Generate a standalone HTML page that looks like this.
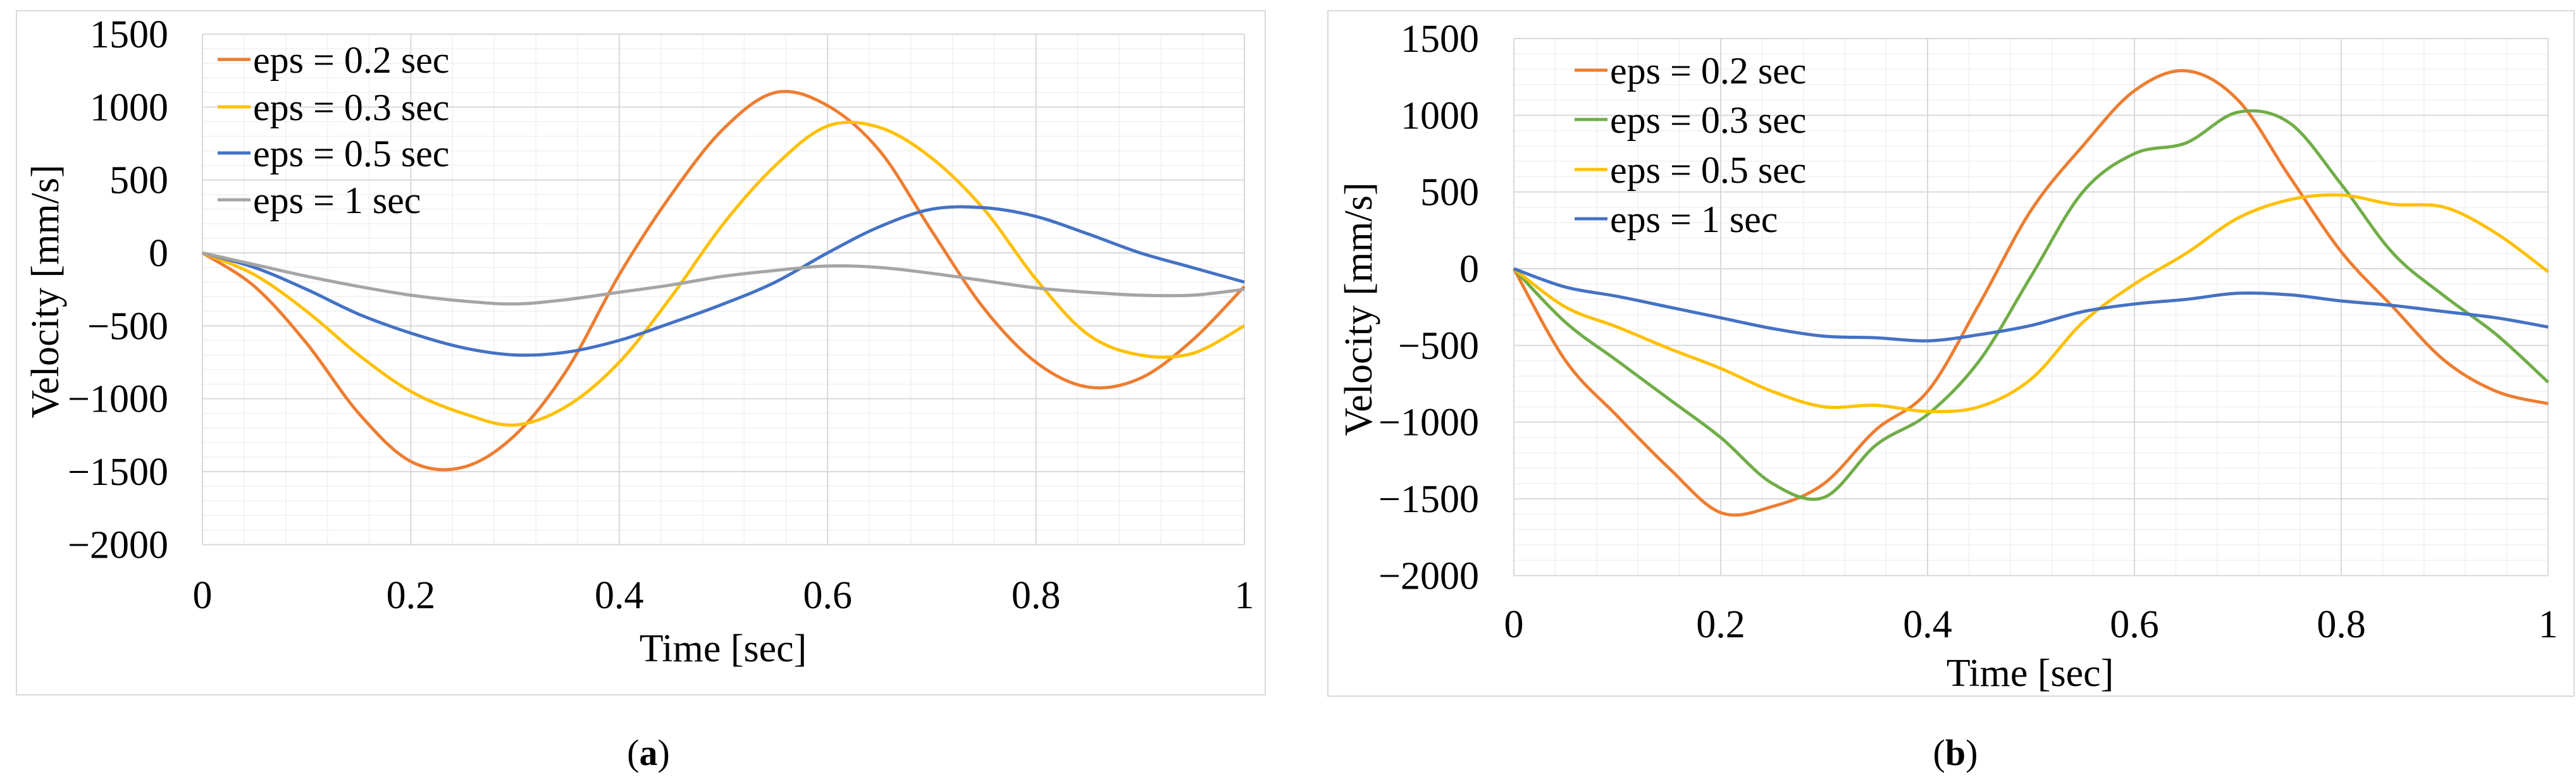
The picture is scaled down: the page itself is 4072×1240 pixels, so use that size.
<!DOCTYPE html>
<html><head><meta charset="utf-8"><style>
html,body{margin:0;padding:0;background:#fff;}
svg{display:block;font-family:"Liberation Serif",serif;}
</style></head><body>
<svg id="root" width="4072" height="1240" viewBox="0 0 4072 1240">
<rect x="26" y="17" width="1974" height="1082" fill="#fff" stroke="#d9d9d9" stroke-width="2"/>
<rect x="2099" y="17" width="1970" height="1084" fill="#fff" stroke="#d9d9d9" stroke-width="2"/>
<g id="ga"></g>
<g id="gb"></g>
<text x="1025" y="1210" font-size="58" text-anchor="middle">(<tspan font-weight="bold">a</tspan>)</text>
<text x="3091" y="1210" font-size="58" text-anchor="middle">(<tspan font-weight="bold">b</tspan>)</text>
</svg>
<script>
const xTicks=[0,0.2,0.4,0.6,0.8,1];
const xTickLabels=["0","0.2","0.4","0.6","0.8","1"];
const yTicks=[1500,1000,500,0,-500,-1000,-1500,-2000];
const yTickLabels=["1500","1000","500","0","\u2212500","\u22121000","\u22121500","\u22122000"];

const aX=[0,0.05,0.1,0.15,0.2,0.25,0.3,0.35,0.4,0.45,0.5,0.55,0.6,0.65,0.7,0.75,0.8,0.85,0.9,0.95,1];
const a02=[0,-230,-620,-1100,-1430,-1470,-1250,-800,-150,400,850,1100,1010,700,150,-380,-750,-920,-860,-600,-230];
const a03=[0,-150,-400,-700,-950,-1100,-1180,-1050,-750,-300,200,600,870,860,650,300,-180,-560,-700,-690,-500];
const a05=[0,-100,-250,-420,-550,-650,-700,-680,-600,-480,-350,-200,0,180,300,310,250,130,0,-100,-200];
const a1=[0,-80,-160,-230,-290,-330,-350,-320,-270,-220,-160,-120,-90,-100,-140,-190,-240,-270,-290,-290,-250];

const bX=[0,0.05,0.1,0.15,0.2,0.25,0.3,0.35,0.4,0.45,0.5,0.55,0.6,0.65,0.7,0.75,0.8,0.85,0.9,0.95,1];
const b02=[0,-600,-960,-1300,-1590,-1550,-1400,-1050,-800,-230,380,800,1160,1290,1100,600,110,-250,-600,-800,-880];
const b03=[0,-350,-600,-850,-1100,-1400,-1490,-1150,-950,-600,-50,500,750,820,1020,950,550,100,-180,-430,-740];
const b05=[0,-250,-380,-520,-650,-800,-900,-890,-930,-900,-720,-350,-100,100,330,450,480,420,400,230,-20];
const b1=[0,-120,-180,-250,-320,-390,-440,-450,-470,-430,-370,-280,-230,-200,-160,-170,-210,-240,-280,-320,-380];

const seriesNamesA=["eps = 0.2 sec","eps = 0.3 sec","eps = 0.5 sec","eps = 1 sec"];
const seriesNamesB=["eps = 0.2 sec","eps = 0.3 sec","eps = 0.5 sec","eps = 1 sec"];

const NS="http://www.w3.org/2000/svg";
function mk(p,tag,attrs){const e=document.createElementNS(NS,tag);for(const k in attrs)e.setAttribute(k,attrs[k]);p.appendChild(e);return e;}
function smooth(pts){let d="M"+pts[0][0]+","+pts[0][1];for(let i=0;i<pts.length-1;i++){const p0=pts[Math.max(0,i-1)],p1=pts[i],p2=pts[i+1],p3=pts[Math.min(pts.length-1,i+2)];const c1=[p1[0]+(p2[0]-p0[0])/6,p1[1]+(p2[1]-p0[1])/6],c2=[p2[0]-(p3[0]-p1[0])/6,p2[1]-(p3[1]-p1[1])/6];d+=" C"+c1[0].toFixed(1)+","+c1[1].toFixed(1)+" "+c2[0].toFixed(1)+","+c2[1].toFixed(1)+" "+p2[0].toFixed(1)+","+p2[1].toFixed(1);}return d;}

function chart(g,cfg){
  const sx=v=>cfg.x0+(cfg.x1-cfg.x0)*v;
  const sy=v=>cfg.yZero-(cfg.yZero-cfg.yTop)*v/1500;
  const ymin=sy(-2000), ymax=sy(1500);
  for(let v=0.04;v<1;v+=0.04){const l=mk(g,"line",{x1:sx(v),x2:sx(v),y1:ymax,y2:ymin,stroke:"#f0f0f0","stroke-width":1.5});
  
  }
  for(let v=-2000;v<=1500;v+=100){const l=mk(g,"line",{x1:sx(0),x2:sx(1),y1:sy(v),y2:sy(v),stroke:"#f0f0f0","stroke-width":1.5});
  
  }
  xTicks.forEach((t,i)=>{const l=mk(g,"line",{x1:sx(t),x2:sx(t),y1:ymax,y2:ymin,stroke:"#d9d9d9","stroke-width":2});
  
  
  const tx=mk(g,"text",{x:sx(t),y:cfg.xLabY,"font-size":62,"text-anchor":"middle"});tx.textContent=xTickLabels[i];
  
  });
  yTicks.forEach((t,i)=>{const l=mk(g,"line",{x1:sx(0),x2:sx(1),y1:sy(t),y2:sy(t),stroke:"#d9d9d9","stroke-width":2});
  
  
  const tx=mk(g,"text",{x:cfg.yLabX,y:sy(t)+21,"font-size":62,"text-anchor":"end"});tx.textContent=yTickLabels[i];
  
  });
  cfg.series.forEach((s,i)=>{const pts=cfg.xs.map((x,j)=>[sx(x),sy(s.v[j])]);
    const p=mk(g,"path",{d:smooth(pts),fill:"none",stroke:s.c,"stroke-width":5,"stroke-linejoin":"round"});
    
    
    const ly=cfg.legY[i];
    const ll=mk(g,"line",{x1:cfg.legX,x2:cfg.legX+52,y1:ly,y2:ly,stroke:s.c,"stroke-width":5});
    
    
    const lt=mk(g,"text",{x:cfg.legX+56,y:ly+21,"font-size":60});lt.textContent=cfg.names[i];
    
    });
  const xt=mk(g,"text",{x:cfg.xtX,y:cfg.xtY,"font-size":62,"text-anchor":"middle"});xt.textContent="Time [sec]";
  
  
  const yt=mk(g,"text",{x:0,y:0,"font-size":62,"text-anchor":"middle",transform:"translate("+cfg.ytX+","+cfg.ytY+") rotate(-90)"});yt.textContent="Velocity [mm/s]";
  
  
}
chart(document.getElementById("ga"),{x0:320,x1:1967,yTop:54,yZero:400,yLabX:266,xLabY:962,xtX:1143,xtY:1046,ytX:92,ytY:461,legX:344,legY:[94,169,242,316],xs:aX,names:seriesNamesA,
 series:[{v:a02,c:"#ED7D31"},{v:a03,c:"#FFC000"},{v:a05,c:"#4472C4"},{v:a1,c:"#A5A5A5"}]});
chart(document.getElementById("gb"),{x0:2393,x1:4028,yTop:61,yZero:425,yLabX:2338,xLabY:1008,xtX:3209,xtY:1085,ytX:2168,ytY:489,legX:2489,legY:[111,189,268,346],xs:bX,names:seriesNamesB,
 series:[{v:b02,c:"#ED7D31"},{v:b03,c:"#70AD47"},{v:b05,c:"#FFC000"},{v:b1,c:"#4472C4"}]});
</script>
</body></html>
